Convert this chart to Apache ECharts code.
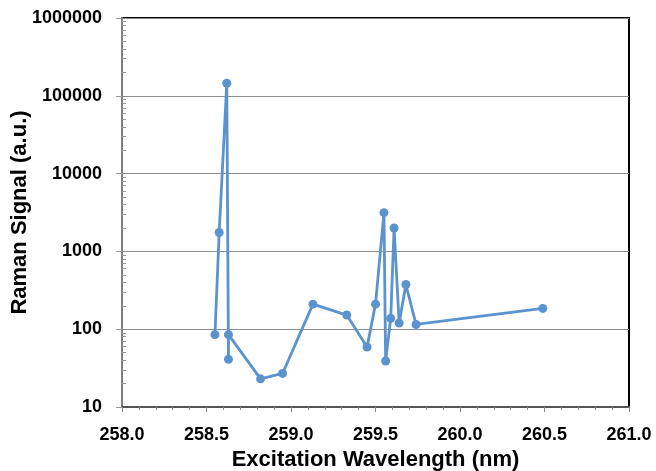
<!DOCTYPE html>
<html>
<head>
<meta charset="utf-8">
<script src="https://cdn.jsdelivr.net/npm/echarts@6/dist/echarts.min.js"></script>
<style>
  html, body { margin: 0; padding: 0; background: #fff; }
  #chart { width: 656px; height: 471px; }
</style>
</head>
<body>
<div id="chart"></div>
<script>
// Excitation wavelength (nm), in measurement order
const wavelength = [258.55, 258.575, 258.62, 258.63, 258.63, 258.82, 258.95, 259.13, 259.33,
                    259.45, 259.50, 259.55, 259.56, 259.59, 259.61, 259.64, 259.68, 259.74, 260.49];
// Raman signal (a.u.)
const ramanSignal = [85, 1750, 145000, 41, 85, 23, 27, 210, 152,
                     59, 210, 3150, 39, 138, 2000, 120, 375, 115, 185];

// Axis ticks
const xTicks = [258.0, 258.5, 259.0, 259.5, 260.0, 260.5, 261.0];
const yDecades = [10, 100, 1000, 10000, 100000, 1000000];

// Minor ticks between decades: 2..9 x 10^n
const yMinor = [];
for (let i = 0; i < yDecades.length - 1; i++) {
  for (let m = 2; m <= 9; m++) yMinor.push(m * yDecades[i]);
}

const points = wavelength.map((w, i) => [w, ramanSignal[i]]);

const chart = echarts.init(document.getElementById('chart'), null, { renderer: 'canvas' });

const labelFont = { fontFamily: 'Liberation Sans, Arial, sans-serif', fontWeight: 'bold', color: '#000' };

chart.setOption({
  animation: false,
  backgroundColor: '#fff',
  grid: {
    left: 122, right: 27, top: 18, bottom: 64,
    outerBoundsMode: 'none', containLabel: false,
    show: true, borderColor: '#000', borderWidth: 2, backgroundColor: 'transparent'
  },
  xAxis: {
    type: 'value',
    min: xTicks[0], max: xTicks[xTicks.length - 1], interval: 0.5,
    name: 'Excitation Wavelength (nm)',
    nameLocation: 'middle', nameGap: 41,
    nameTextStyle: Object.assign({ fontSize: 22 }, labelFont),
    axisLine: { onZero: false, lineStyle: { color: '#555', width: 2 } },
    axisTick: { show: true, inside: false, length: 5, lineStyle: { color: '#888', width: 1 } },
    minorTick: { show: true, splitNumber: 5, length: 3, lineStyle: { color: '#888', width: 1 } },
    splitLine: { show: false },
    axisLabel: Object.assign({ fontSize: 18, margin: 19, formatter: v => v.toFixed(1) }, labelFont)
  },
  yAxis: [{
    type: 'log', logBase: 10,
    min: yDecades[0], max: yDecades[yDecades.length - 1],
    name: 'Raman Signal (a.u.)',
    nameLocation: 'middle', nameGap: 91, nameRotate: 90,
    nameMoveOverlap: false,
    nameTextStyle: Object.assign({ fontSize: 22 }, labelFont),
    axisLine: { onZero: false, lineStyle: { color: '#808080', width: 2 } },
    axisTick: { show: true, inside: false, length: 6, lineStyle: { color: '#999', width: 1 } },
    splitLine: { show: true, lineStyle: { color: '#8c8c8c', width: 1.2 } },
    axisLabel: Object.assign({ fontSize: 18, margin: 20, formatter: v => String(Math.round(v)) }, labelFont)
  }, {
    // overlay axis that carries only the logarithmic minor ticks
    type: 'log', logBase: 10, position: 'left',
    min: yDecades[0], max: yDecades[yDecades.length - 1],
    axisLine: { show: false },
    axisLabel: { show: false },
    splitLine: { show: false },
    axisTick: { show: true, inside: true, length: 4, customValues: yMinor, lineStyle: { color: '#999', width: 1 } }
  }],
  series: [{
    type: 'line',
    data: points,
    yAxisIndex: 0,
    symbol: 'circle', symbolSize: 9,
    lineStyle: { color: '#5b93cf', width: 2.8 },
    itemStyle: { color: '#5b93cf' }
  }]
});
</script>
</body>
</html>
